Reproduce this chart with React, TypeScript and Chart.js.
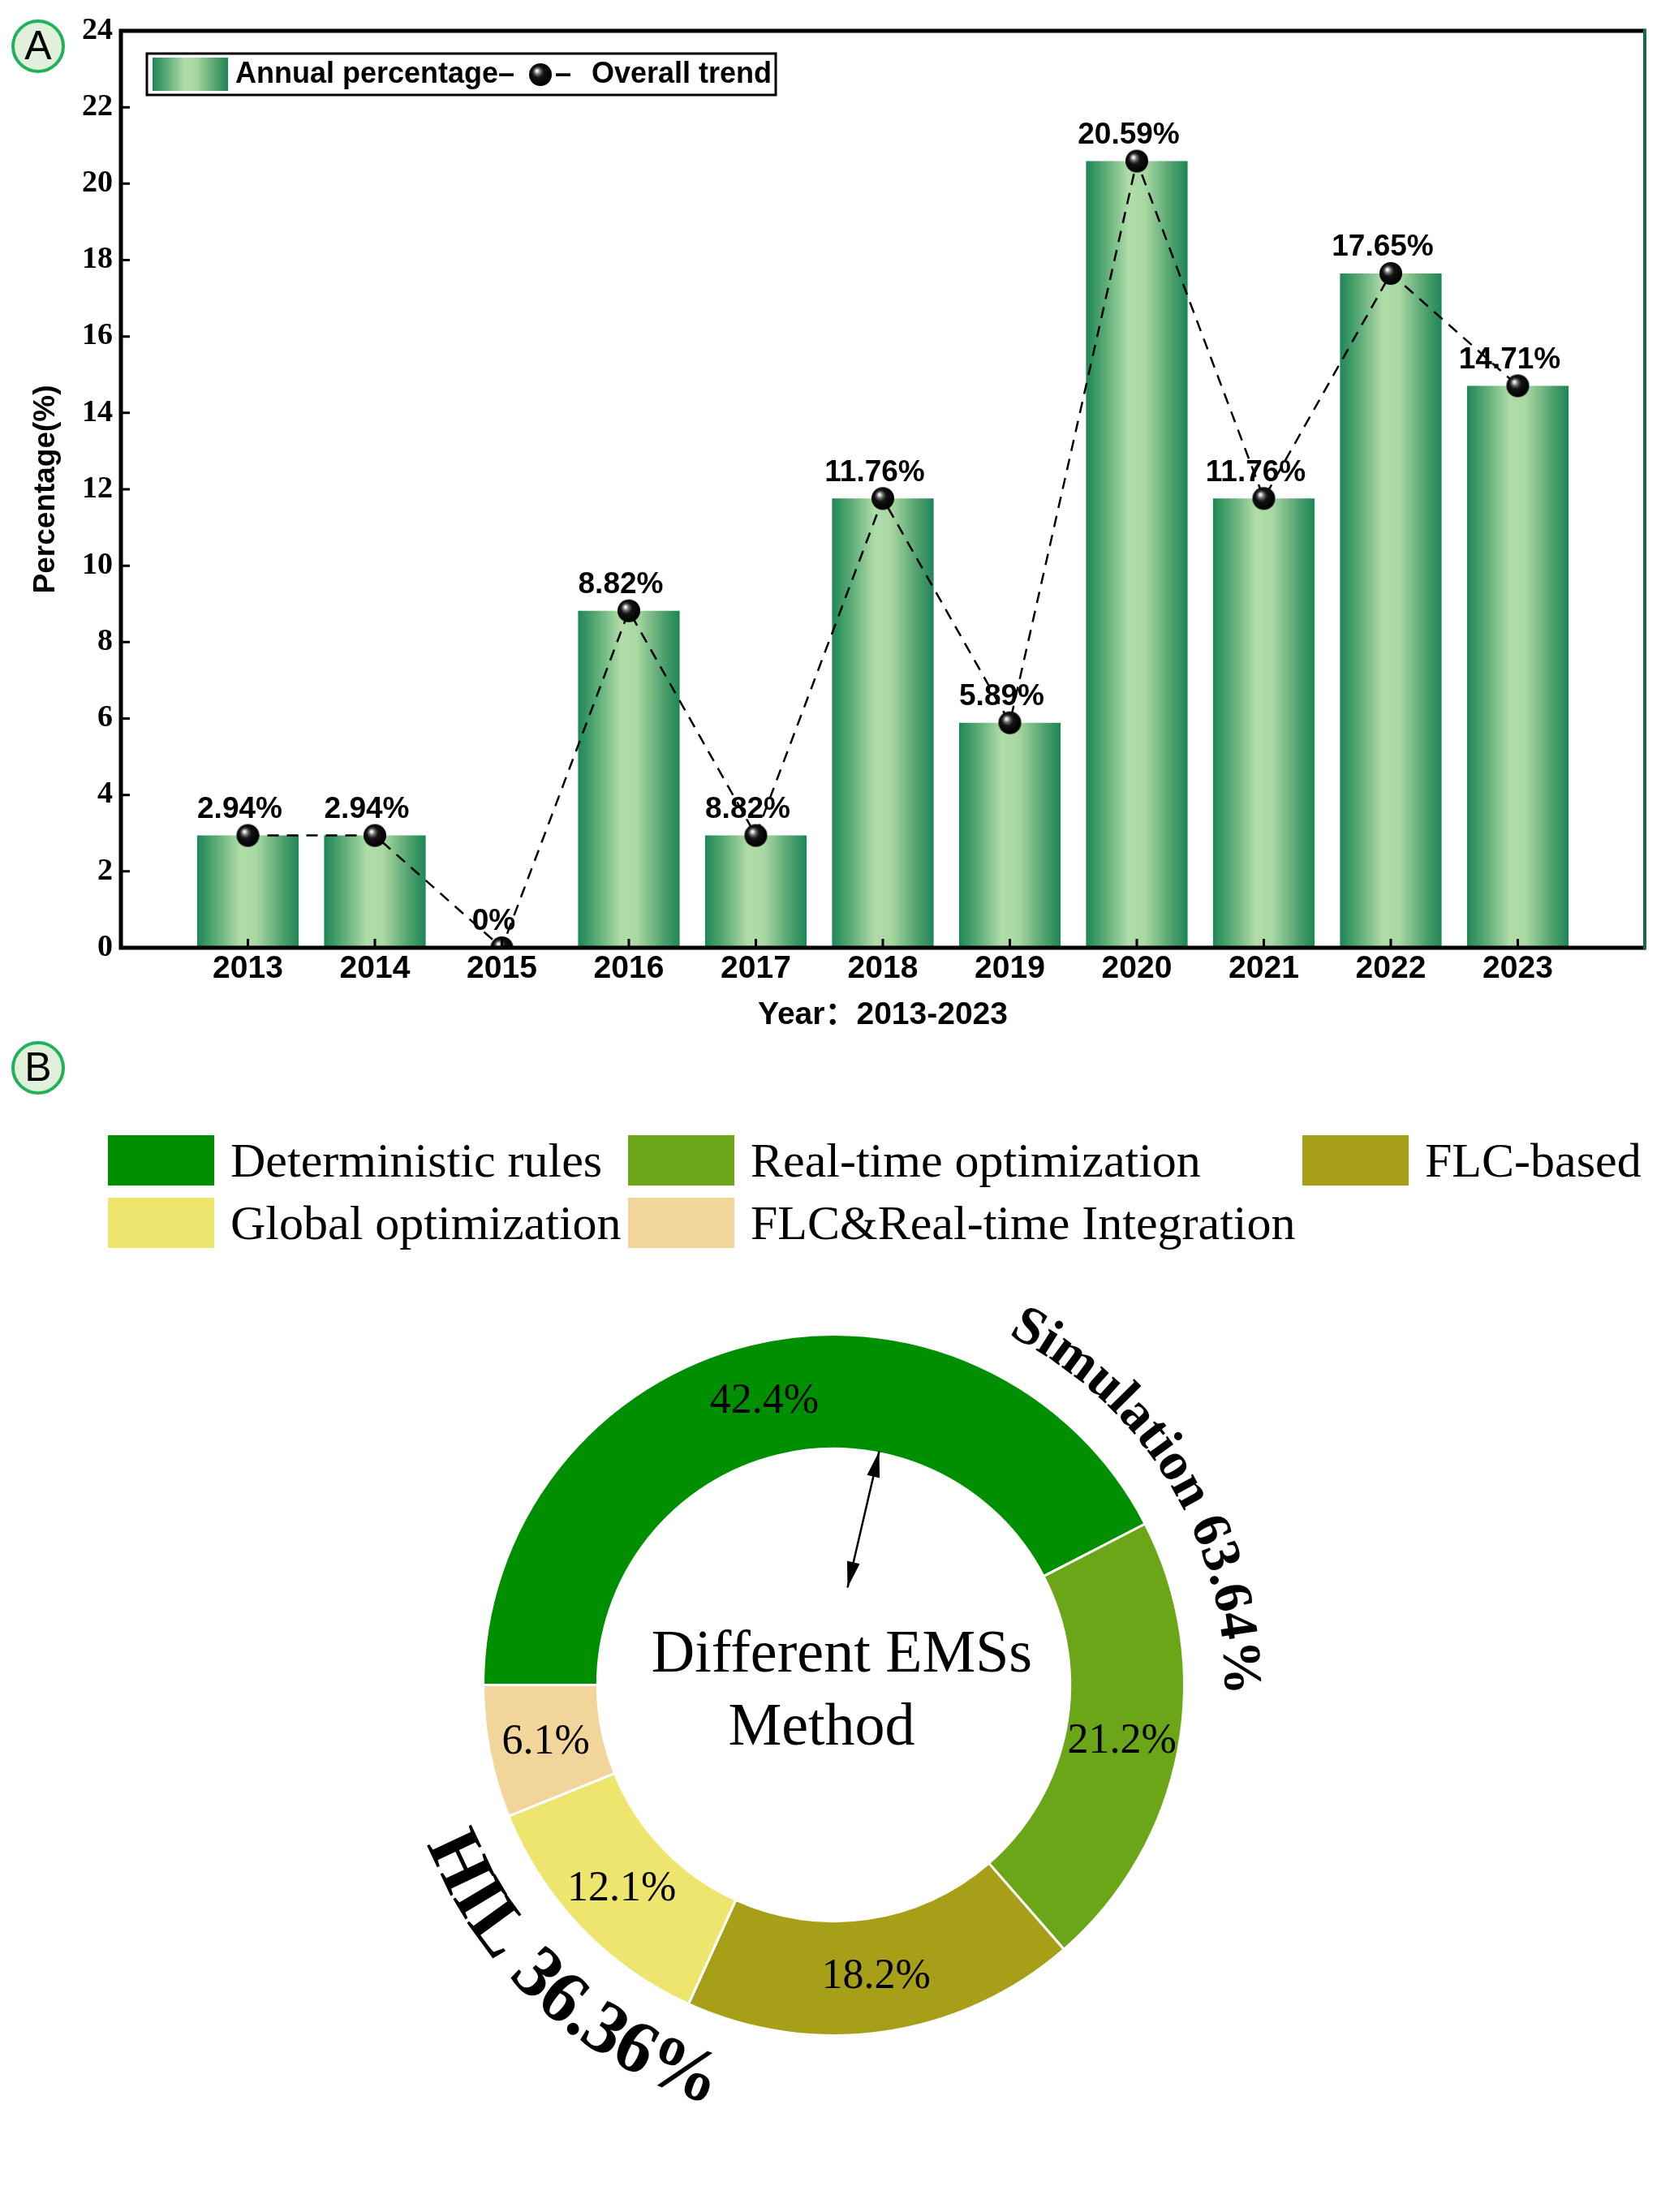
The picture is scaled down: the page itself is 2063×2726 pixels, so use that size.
import React, { useEffect, useRef } from 'react';
import { Chart, registerables } from 'chart.js';

Chart.register(...registerables);

// ---------- Data: panel A ----------
const YEARS = [2013, 2014, 2015, 2016, 2017, 2018, 2019, 2020, 2021, 2022, 2023];
const ANNUAL_PERCENTAGE = [2.94, 2.94, 0, 8.82, 2.94, 11.76, 5.89, 20.59, 11.76, 17.65, 14.71];
const POINT_LABELS = ['2.94%', '2.94%', '0%', '8.82%', '8.82%', '11.76%', '5.89%', '20.59%', '11.76%', '17.65%', '14.71%'];
const X_RANGE = [2012, 2024];
const Y_RANGE = [0, 24];
const Y_STEP = 2;
const BAR_SERIES = 'Annual percentage';
const LINE_SERIES = 'Overall trend';
const X_TITLE = 'Year\uFF1A2013-2023';
const Y_TITLE = 'Percentage(%)';

// ---------- Data: panel B ----------
const EMS_METHODS = ['Deterministic rules', 'Real-time optimization', 'FLC-based', 'Global optimization', 'FLC&Real-time Integration'];
const EMS_SHARES = [42.4, 21.2, 18.2, 12.1, 6.1];
const EMS_SHARE_LABELS = ['42.4%', '21.2%', '18.2%', '12.1%', '6.1%'];
const EMS_COLORS = ['#008f00', '#6aa617', '#a89f18', '#ede56e', '#f2d59a'];
const GROUP_SIMULATION = 'Simulation 63.64%';
const GROUP_HIL = 'HIL 36.36%';
const CENTER_LINES = ['Different EMSs', 'Method'];

// ---------- Layout / style constants ----------
const W = 2063;
const H_A = 1275;
const H_B = 2726 - H_A;
const SANS = '"Liberation Sans", Arial, "Noto Sans CJK SC", sans-serif';
const SERIF = '"Liberation Serif", "Times New Roman", serif';
const LEGEND_COL = [0, 1, 2, 0, 1];
const LEGEND_ROW = [0, 0, 0, 1, 1];
const LEGEND_COL_X = [133, 774, 1605];
const LEGEND_ROW_Y = [124, 201];

function makeSphere(r: number) {
  const c = document.createElement('canvas');
  const s = 2 * r + 2;
  c.width = s;
  c.height = s;
  const g = c.getContext('2d')!;
  const cx = s / 2, cy = s / 2;
  const grad = g.createRadialGradient(cx - r * 0.32, cy - r * 0.36, 0, cx - r * 0.1, cy - r * 0.1, r * 1.05);
  grad.addColorStop(0, '#ffffff');
  grad.addColorStop(0.1, '#e4e4e4');
  grad.addColorStop(0.26, '#6e6e6e');
  grad.addColorStop(0.48, '#141414');
  grad.addColorStop(1, '#000000');
  g.fillStyle = grad;
  g.beginPath();
  g.arc(cx, cy, r, 0, Math.PI * 2);
  g.fill();
  return c;
}

function barGradient(ctx: CanvasRenderingContext2D, left: number, right: number) {
  const g = ctx.createLinearGradient(left, 0, right, 0);
  g.addColorStop(0, '#1f8656');
  g.addColorStop(0.2, '#5fae78');
  g.addColorStop(0.42, '#b0dca8');
  g.addColorStop(0.58, '#a9d8a1');
  g.addColorStop(0.85, '#4c9f6c');
  g.addColorStop(1, '#1f8656');
  return g;
}

function badge(ctx: CanvasRenderingContext2D, x: number, y: number, letter: string) {
  ctx.save();
  ctx.beginPath();
  ctx.arc(x, y, 31, 0, Math.PI * 2);
  ctx.fillStyle = '#e1f0db';
  ctx.fill();
  ctx.lineWidth = 4;
  ctx.strokeStyle = '#1fb25a';
  ctx.stroke();
  ctx.fillStyle = '#000';
  ctx.font = `50px ${SANS}`;
  ctx.textAlign = 'center';
  ctx.textBaseline = 'middle';
  ctx.fillText(letter, x, y + 2);
  ctx.restore();
}

function drawArcText(ctx: CanvasRenderingContext2D, text: string, cx: number, cy: number, radius: number, centerDeg: number, font: string, outward: boolean) {
  ctx.save();
  ctx.font = font;
  ctx.fillStyle = '#000';
  ctx.textAlign = 'center';
  ctx.textBaseline = 'alphabetic';
  const chars = Array.from(text);
  const widths = chars.map((ch) => ctx.measureText(ch).width);
  const total = widths.reduce((a, b) => a + b, 0);
  const dir = outward ? 1 : -1;
  let acc = -total / 2;
  chars.forEach((ch, i) => {
    const s = acc + widths[i] / 2;
    acc += widths[i];
    const theta = (centerDeg * Math.PI) / 180 + (dir * s) / radius;
    const px = cx + radius * Math.sin(theta);
    const py = cy - radius * Math.cos(theta);
    ctx.save();
    ctx.translate(px, py);
    ctx.rotate(outward ? theta : theta + Math.PI);
    ctx.fillText(ch, 0, 0);
    ctx.restore();
  });
  ctx.restore();
}

function arrowHead(ctx: CanvasRenderingContext2D, x: number, y: number, fromX: number, fromY: number) {
  const ang = Math.atan2(y - fromY, x - fromX);
  const len = 32, half = 8;
  ctx.beginPath();
  ctx.moveTo(x, y);
  ctx.lineTo(x - len * Math.cos(ang) + half * Math.sin(ang), y - len * Math.sin(ang) - half * Math.cos(ang));
  ctx.lineTo(x - len * Math.cos(ang) - half * Math.sin(ang), y - len * Math.sin(ang) + half * Math.cos(ang));
  ctx.closePath();
  ctx.fill();
}

export default function App() {
  const refA = useRef<HTMLCanvasElement>(null);
  const refB = useRef<HTMLCanvasElement>(null);

  useEffect(() => {
    const sphere = makeSphere(14);

    const panelAPlugin = {
      id: 'panelA',
      beforeDatasetDraw(chart: any, args: any) {
        if (args.index !== 1) return;
        const ctx = chart.ctx as CanvasRenderingContext2D;
        const meta = chart.getDatasetMeta(1);
        ctx.save();
        ctx.font = `bold 37px ${SANS}`;
        ctx.fillStyle = '#000';
        ctx.textAlign = 'center';
        ctx.textBaseline = 'middle';
        meta.data.forEach((pt: any, i: number) => {
          ctx.fillText(POINT_LABELS[i], pt.x - 10, pt.y - 32);
        });
        ctx.restore();
      },
      afterDraw(chart: any) {
        const ctx = chart.ctx as CanvasRenderingContext2D;
        const a = chart.chartArea;
        const xs = chart.scales.x;
        const ys = chart.scales.y;
        ctx.save();
        // inward tick marks
        ctx.strokeStyle = '#000';
        ctx.lineWidth = 3;
        ctx.beginPath();
        for (let v = Y_RANGE[0]; v <= Y_RANGE[1]; v += Y_STEP) {
          const y = ys.getPixelForValue(v);
          ctx.moveTo(a.left, y);
          ctx.lineTo(a.left + 11, y);
        }
        YEARS.forEach((yr) => {
          const x = xs.getPixelForValue(yr);
          ctx.moveTo(x, a.bottom);
          ctx.lineTo(x, a.bottom - 11);
        });
        ctx.stroke();
        // frame
        ctx.lineWidth = 5;
        ctx.beginPath();
        ctx.moveTo(a.right, a.top);
        ctx.lineTo(a.left, a.top);
        ctx.lineTo(a.left, a.bottom);
        ctx.lineTo(a.right, a.bottom);
        ctx.stroke();
        ctx.strokeStyle = '#17694a';
        ctx.lineWidth = 4;
        ctx.beginPath();
        ctx.moveTo(a.right, a.top - 2.5);
        ctx.lineTo(a.right, a.bottom + 2.5);
        ctx.stroke();

        // legend box
        ctx.strokeStyle = '#000';
        ctx.lineWidth = 3;
        ctx.fillStyle = '#fff';
        ctx.fillRect(181, 66, 775, 51);
        ctx.strokeRect(181, 66, 775, 51);
        ctx.fillStyle = barGradient(ctx, 188, 281);
        ctx.fillRect(188, 71, 93, 41);
        ctx.fillStyle = '#000';
        ctx.font = `bold 36px ${SANS}`;
        ctx.textAlign = 'left';
        ctx.textBaseline = 'middle';
        ctx.fillText(BAR_SERIES + '\u2013', 290, 92);
        ctx.drawImage(sphere, 666 - sphere.width / 2, 92 - sphere.height / 2);
        ctx.fillText('\u2013', 684, 92);
        ctx.fillText(LINE_SERIES, 729, 92);
        ctx.restore();

        badge(ctx, 47, 57, 'A');
      },
    };

    const chartA = new Chart(refA.current!, {
      type: 'bar',
      data: {
        datasets: [
          {
            type: 'bar',
            label: BAR_SERIES,
            data: YEARS.map((x, i) => ({ x, y: ANNUAL_PERCENTAGE[i] })),
            backgroundColor: (c: any) => {
              const chart = c.chart;
              const xs = chart.scales && chart.scales.x;
              if (!xs || c.type !== 'data' || !chart.chartArea) return '#7cc08e';
              const v = YEARS[c.dataIndex];
              const cx = xs.getPixelForValue(v);
              const half = 0.4 * Math.abs(xs.getPixelForValue(v + 1) - cx);
              return barGradient(chart.ctx, cx - half, cx + half);
            },
            borderWidth: 0,
            categoryPercentage: 0.8,
            barPercentage: 1,
            order: 1,
          } as any,
          {
            type: 'line',
            label: LINE_SERIES,
            data: YEARS.map((x, i) => ({ x, y: ANNUAL_PERCENTAGE[i] })),
            borderColor: '#000',
            borderWidth: 2.5,
            borderDash: [14, 10],
            pointStyle: sphere as any,
            pointRadius: 14,
            fill: false,
            tension: 0,
            order: 0,
          } as any,
        ],
      },
      options: {
        responsive: false,
        devicePixelRatio: 1,
        animation: false,
        events: [],
        layout: { padding: { left: 0, top: 38, right: 36, bottom: 0 } },
        plugins: { legend: { display: false }, tooltip: { enabled: false } },
        scales: {
          x: {
            type: 'linear',
            min: X_RANGE[0],
            max: X_RANGE[1],
            offset: false,
            grid: { display: false, drawTicks: false, offset: false },
            border: { display: false },
            ticks: {
              stepSize: 1,
              autoSkip: false,
              maxRotation: 0,
              padding: 3,
              color: '#000',
              font: { family: SANS, weight: 'bold', size: 39 },
              callback: (v: any) => (YEARS.includes(Number(v)) ? String(v) : ''),
            },
            title: {
              display: true,
              text: X_TITLE,
              color: '#000',
              font: { family: SANS, weight: 'bold', size: 39 },
              padding: { top: 0, bottom: 0 },
            },
            afterFit: (s: any) => {
              s.height = 107;
            },
          },
          y: {
            type: 'linear',
            min: Y_RANGE[0],
            max: Y_RANGE[1],
            grid: { display: false, drawTicks: false },
            border: { display: false },
            ticks: {
              stepSize: Y_STEP,
              padding: 10,
              color: '#000',
              font: { family: SERIF, weight: 'bold', size: 38 },
            },
            title: {
              display: true,
              text: Y_TITLE,
              color: '#000',
              font: { family: SANS, weight: 'bold', size: 37 },
              padding: { top: 35, bottom: 0 },
            },
            afterFit: (s: any) => {
              s.width = 149;
            },
          },
        },
      } as any,
      plugins: [panelAPlugin],
    });

    const panelBPlugin = {
      id: 'panelB',
      afterDraw(chart: any) {
        const ctx = chart.ctx as CanvasRenderingContext2D;
        badge(ctx, 47, 41, 'B');

        // legend grid
        ctx.save();
        EMS_METHODS.forEach((name, i) => {
          const x = LEGEND_COL_X[LEGEND_COL[i]];
          const y = LEGEND_ROW_Y[LEGEND_ROW[i]];
          ctx.fillStyle = EMS_COLORS[i];
          ctx.fillRect(x, y, 131, 62);
          ctx.fillStyle = '#000';
          ctx.font = `60px ${SERIF}`;
          ctx.textAlign = 'left';
          ctx.textBaseline = 'alphabetic';
          ctx.fillText(name, x + 151, y + 51);
        });
        ctx.restore();

        const meta = chart.getDatasetMeta(0);
        const arc0 = meta.data[0];
        const cx = arc0.x, cy = arc0.y;

        // slice labels
        ctx.save();
        ctx.fillStyle = '#000';
        ctx.font = `52px ${SERIF}`;
        ctx.textAlign = 'center';
        ctx.textBaseline = 'middle';
        meta.data.forEach((arc: any, i: number) => {
          const p = arc.getCenterPoint();
          ctx.fillText(EMS_SHARE_LABELS[i], p.x, p.y + 2);
        });

        // center text
        ctx.font = `74px ${SERIF}`;
        ctx.textBaseline = 'alphabetic';
        ctx.fillText(CENTER_LINES[0], cx + 10, cy - 17);
        ctx.fillText(CENTER_LINES[1], cx - 15, cy + 73);

        // arrow
        const x1 = cx + 56, y1 = cy - 288, x2 = cx + 17, y2 = cy - 120;
        ctx.strokeStyle = '#000';
        ctx.lineWidth = 2.5;
        ctx.beginPath();
        ctx.moveTo(x1, y1);
        ctx.lineTo(x2, y2);
        ctx.stroke();
        arrowHead(ctx, x1, y1, x2, y2);
        arrowHead(ctx, x2, y2, x1, y1);
        ctx.restore();

        // curved group labels
        drawArcText(ctx, GROUP_SIMULATION, cx, cy, 482, 59, `bold 67px ${SERIF}`, true);
        drawArcText(ctx, GROUP_HIL, cx, cy, 538, 222.5, `bold 92px ${SERIF}`, false);
      },
    };

    const chartB = new Chart(refB.current!, {
      type: 'doughnut',
      data: {
        labels: EMS_METHODS,
        datasets: [
          {
            data: EMS_SHARES,
            backgroundColor: EMS_COLORS,
            borderColor: '#ffffff',
            borderWidth: 3,
            hoverOffset: 0,
          },
        ],
      },
      options: {
        responsive: false,
        devicePixelRatio: 1,
        animation: false,
        events: [],
        cutout: '67.4%',
        rotation: -90,
        layout: { padding: { left: 594, right: 602, top: 368, bottom: 216 } },
        plugins: { legend: { display: false }, tooltip: { enabled: false } },
      } as any,
      plugins: [panelBPlugin],
    });

    return () => {
      chartA.destroy();
      chartB.destroy();
    };
  }, []);

  return (
    <div style={{ position: 'absolute', left: 0, top: 0, width: W, height: 2726, background: '#fff', overflow: 'hidden' }}>
      <canvas ref={refA} width={W} height={H_A} style={{ position: 'absolute', left: 0, top: 0, width: W, height: H_A }} />
      <canvas ref={refB} width={W} height={H_B} style={{ position: 'absolute', left: 0, top: H_A, width: W, height: H_B }} />
    </div>
  );
}
